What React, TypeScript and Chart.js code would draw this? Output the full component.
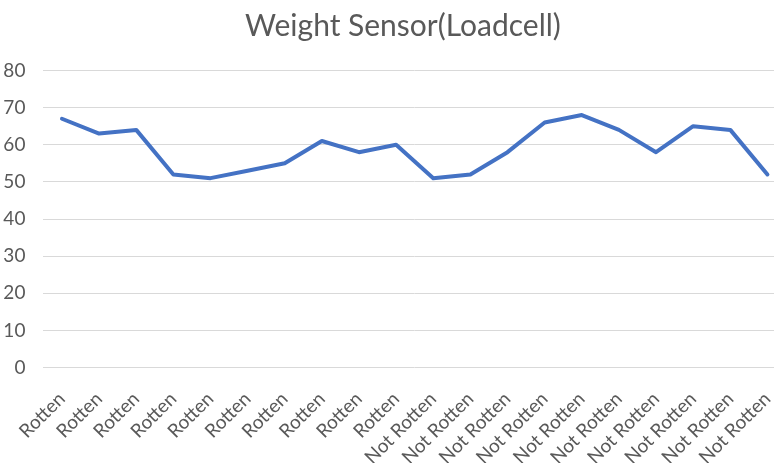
import React, { useEffect, useRef } from "react";
import { Chart, registerables } from "chart.js";

Chart.register(...registerables);

const chartTitle = "Weight Sensor(Loadcell)";
const categories = [
  "Rotten", "Rotten", "Rotten", "Rotten", "Rotten",
  "Rotten", "Rotten", "Rotten", "Rotten", "Rotten",
  "Not Rotten", "Not Rotten", "Not Rotten", "Not Rotten", "Not Rotten",
  "Not Rotten", "Not Rotten", "Not Rotten", "Not Rotten", "Not Rotten",
];
const weights = [67, 63, 64, 52, 51, 53, 55, 61, 58, 60, 51, 52, 58, 66, 68, 64, 58, 65, 64, 52];
const yMin = 0;
const yMax = 80;
const yStep = 10;

const FONT = "Lato, 'Liberation Sans', sans-serif";

const shiftTitle = {
  id: "shiftTitle",
  afterLayout(chart: any) {
    const t = chart.titleBlock;
    if (t) {
      t.left += 10;
      t.right += 10;
    }
  },
};

export default function App() {
  const ref = useRef<HTMLCanvasElement | null>(null);

  useEffect(() => {
    if (!ref.current) return;
    const chart = new Chart(ref.current, {
      type: "line",
      data: {
        labels: categories,
        datasets: [
          {
            label: "Weight",
            data: weights,
            borderColor: "#4472C4",
            backgroundColor: "#4472C4",
            borderWidth: 4,
            pointRadius: 0,
            tension: 0,
            borderJoinStyle: "round",
            borderCapStyle: "round",
          },
        ],
      },
      plugins: [shiftTitle],
      options: {
        responsive: false,
        animation: false,
        layout: { padding: { left: 0, right: 20, top: 8, bottom: 0 } },
        plugins: {
          legend: { display: false },
          tooltip: { enabled: false },
          title: {
            display: true,
            text: chartTitle,
            color: "#595959",
            font: { family: FONT, size: 30, weight: "normal", lineHeight: 1.2 },
            padding: { top: 0, bottom: 26.5 },
          },
        },
        scales: {
          x: {
            offset: true,
            grid: { display: false },
            border: { display: false },
            ticks: {
              autoSkip: false,
              minRotation: 45,
              maxRotation: 45,
              color: "#595959",
              padding: 12,
              font: { family: FONT, size: 19 },
            },
            afterFit: (s: any) => {
              s.height = 95.5;
            },
          },
          y: {
            min: yMin,
            max: yMax,
            grid: { color: "#d9d9d9", lineWidth: 1, drawTicks: false },
            border: { display: false },
            ticks: {
              stepSize: yStep,
              color: "#595959",
              padding: 18,
              font: { family: FONT, size: 19 },
            },
            afterFit: (s: any) => {
              s.width = 43.4;
            },
          },
        },
      },
    });
    return () => chart.destroy();
  }, []);

  return (
    <div
      style={{
        position: "fixed",
        left: 0,
        top: 0,
        width: 774,
        height: 463,
        overflow: "hidden",
        background: "#fff",
      }}
    >
      <canvas ref={ref} width={806} height={463} style={{ display: "block" }} />
    </div>
  );
}
